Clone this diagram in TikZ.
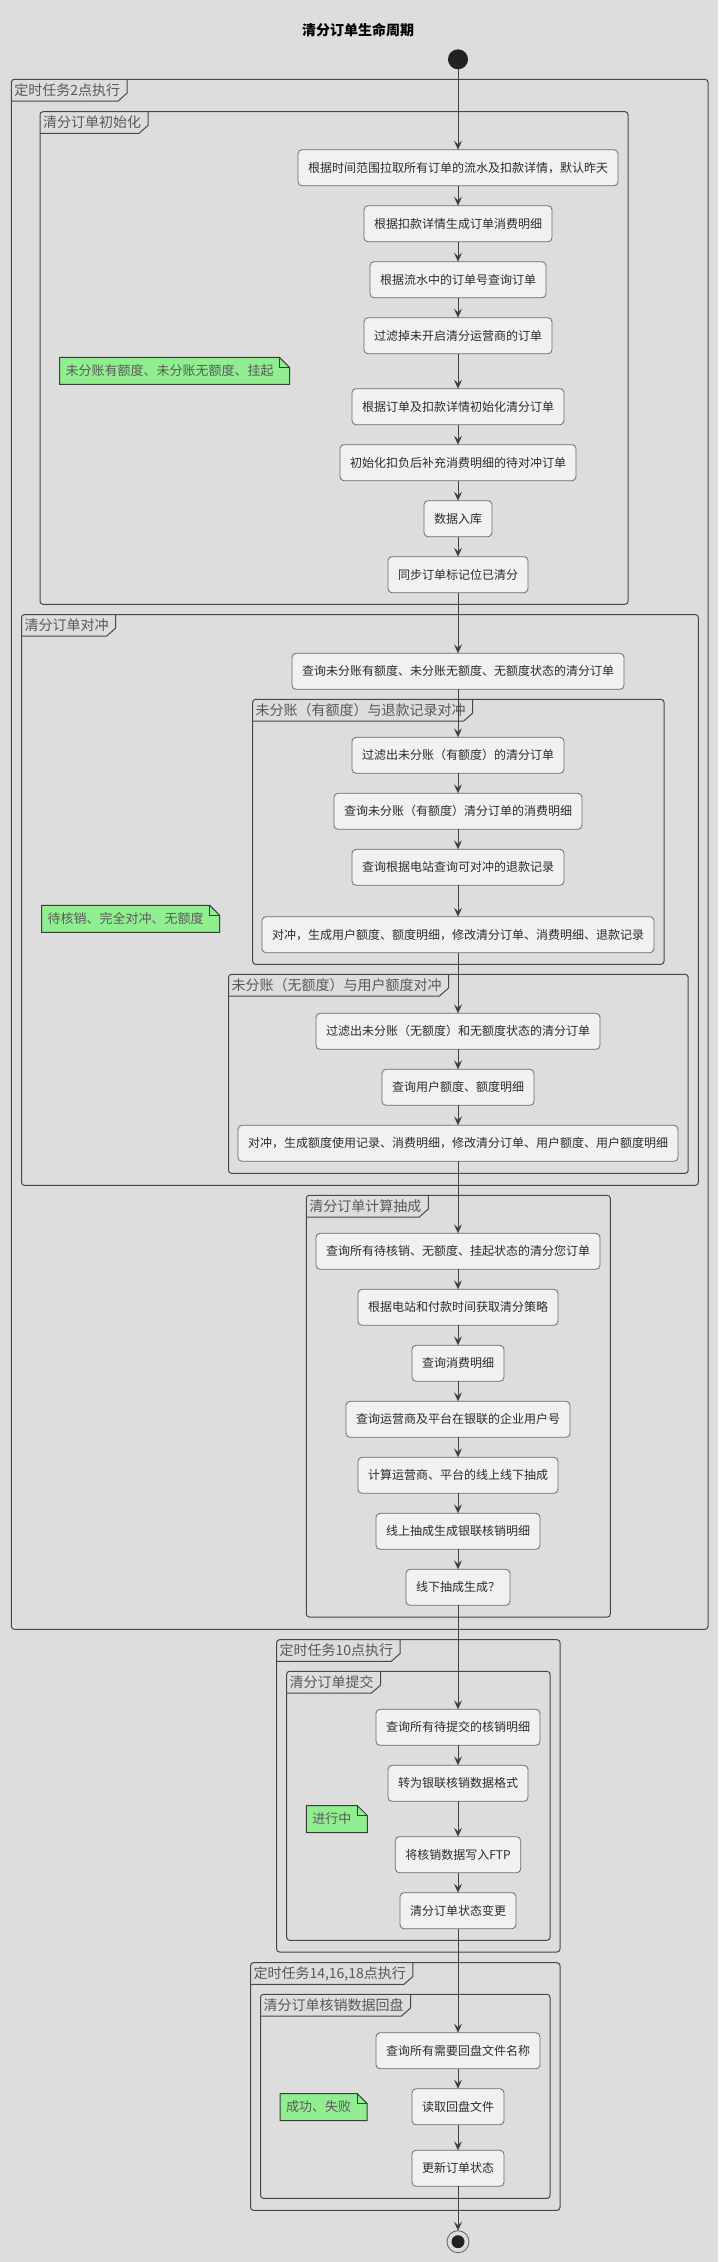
\documentclass[tikz,border=0pt]{standalone}
\usepackage{fontspec}
\setmainfont{Noto Sans CJK SC}
\usepackage{xcolor}
\usetikzlibrary{positioning,arrows.meta,backgrounds}

\definecolor{bgGray}{HTML}{DDDDDD}
\definecolor{actFill}{HTML}{F1F1F1}
\definecolor{actLine}{HTML}{6B6B6B}
\definecolor{actText}{HTML}{2B2B2B}
\definecolor{grpLine}{HTML}{474747}
\definecolor{lblText}{HTML}{585858}
\definecolor{memoFill}{HTML}{90EE90}
\definecolor{memoLine}{HTML}{3C3C3C}
\definecolor{memoText}{HTML}{5A5A5A}
\definecolor{arrowCol}{HTML}{404040}
\definecolor{dotCol}{HTML}{222222}

\begin{document}
\begin{tikzpicture}[
    x=1pt, y=-1pt,
    node distance=20pt,
    act/.style={rectangle, rounded corners=4pt, draw=actLine, fill=actFill, line width=0.8pt, minimum height=36pt, inner xsep=10pt, outer sep=0pt, font=\fontsize{12}{14}\selectfont, text=actText},
    grp/.style={draw=grpLine, line width=1pt, rounded corners=3pt},
    grplbl/.style={anchor=north west, inner xsep=3pt, inner ysep=0pt, outer sep=0pt, minimum height=21.7pt, font=\fontsize{14}{16}\selectfont, text=lblText},
    tab/.style={draw=grpLine, line width=1pt},
    memo/.style={anchor=west, inner xsep=6pt, inner ysep=0pt, outer sep=0pt, minimum height=27pt, font=\fontsize{13}{15}\selectfont, text=memoText},
    arrow/.style={-{Stealth[length=9pt,width=8pt,inset=3.5pt]}, draw=arrowCol, line width=0.9pt}
]
    \begin{scope}[on background layer]
        \fill[bgGray] (0,0) rectangle (718,2262);
    \end{scope}
    \useasboundingbox (0,0) rectangle (718,2262);

    % Frames
    \draw[grp] (11.4,79.3) rectangle (708,1629.3);
    \node[grplbl] (g1) at (11.4,79.3) {定时任务2点执行};
    \draw[grp] (40,111.7) rectangle (628,604.3);
    \node[grplbl] (g1a) at (40,111.7) {清分订单初始化};
    \draw[grp] (21.5,614.5) rectangle (698.3,1185.3);
    \node[grplbl] (g1b) at (21.5,614.5) {清分订单对冲};
    \draw[grp] (252.7,699.3) rectangle (664,964.3);
    \node[grplbl] (g1b1) at (252.7,699.3) {未分账（有额度）与退款记录对冲};
    \draw[grp] (228.5,974.3) rectangle (688.2,1173.3);
    \node[grplbl] (g1b2) at (228.5,974.3) {未分账（无额度）与用户额度对冲};
    \draw[grp] (306.3,1195.3) rectangle (610.3,1617);
    \node[grplbl] (g1c) at (306.3,1195.3) {清分订单计算抽成};
    \draw[grp] (276.6,1639.7) rectangle (560,1952);
    \node[grplbl] (g2) at (276.6,1639.7) {定时任务10点执行};
    \draw[grp] (286.6,1671.3) rectangle (550,1940.3);
    \node[grplbl] (g2a) at (286.6,1671.3) {清分订单提交};
    \draw[grp] (250.5,1962.7) rectangle (560,2210.3);
    \node[grplbl] (g3) at (250.5,1962.7) {定时任务14,16,18点执行};
    \draw[grp] (260.5,1994.3) rectangle (550,2198.3);
    \node[grplbl] (g3a) at (260.5,1994.3) {清分订单核销数据回盘};

    \foreach \g in {g1,g1a,g1b,g1b1,g1b2,g1c,g2,g2a,g3,g3a}
        \draw[tab] (\g.south west) -- ([xshift=-5pt]\g.south east) -- ([xshift=4pt,yshift=8pt]\g.south east) -- ([xshift=4pt]\g.north east);

    % Title and start
    \node[font=\bfseries\fontsize{14}{16}\selectfont] (title) at (358,30) {清分订单生命周期};
    \node[circle, fill=dotCol, minimum size=20pt, inner sep=0pt, outer sep=0pt] (start) at (458,59.3) {};

    % Activities
    \node[act, below=80.4pt of start] (b1) {根据时间范围拉取所有订单的流水及扣款详情，默认昨天};
    \node[act, below=of b1] (b2) {根据扣款详情生成订单消费明细};
    \node[act, below=of b2] (b3) {根据流水中的订单号查询订单};
    \node[act, below=of b3] (b4) {过滤掉未开启清分运营商的订单};
    \node[act, below=35pt of b4] (b5) {根据订单及扣款详情初始化清分订单};
    \node[act, below=of b5] (b6) {初始化扣负后补充消费明细的待对冲订单};
    \node[act, below=of b6] (b7) {数据入库};
    \node[act, below=of b7] (b8) {同步订单标记位已清分};

    \node[act, below=60.6pt of b8] (b9) {查询未分账有额度、未分账无额度、无额度状态的清分订单};
    \node[act, below=48pt of b9] (b10) {过滤出未分账（有额度）的清分订单};
    \node[act, below=of b10] (b11) {查询未分账（有额度）清分订单的消费明细};
    \node[act, below=of b11] (b12) {查询根据电站查询可对冲的退款记录};
    \node[act, below=31.4pt of b12] (b13) {对冲，生成用户额度、额度明细，修改清分订单、消费明细、退款记录};
    \node[act, below=60.6pt of b13] (b14) {过滤出未分账（无额度）和无额度状态的清分订单};
    \node[act, below=of b14] (b15) {查询用户额度、额度明细};
    \node[act, below=of b15] (b16) {对冲，生成额度使用记录、消费明细，修改清分订单、用户额度、用户额度明细};

    \node[act, below=72pt of b16] (b17) {查询所有待核销、无额度、挂起状态的清分您订单};
    \node[act, below=of b17] (b18) {根据电站和付款时间获取清分策略};
    \node[act, below=of b18] (b19) {查询消费明细};
    \node[act, below=of b19] (b20) {查询运营商及平台在银联的企业用户号};
    \node[act, below=of b20] (b21) {计算运营商、平台的线上线下抽成};
    \node[act, below=of b21] (b22) {线上抽成生成银联核销明细};
    \node[act, below=of b22] (b23) {线下抽成生成？};

    \node[act, below=104pt of b23] (b24) {查询所有待提交的核销明细};
    \node[act, below=of b24] (b25) {转为银联核销数据格式};
    \node[act, below=35.4pt of b25] (b26) {将核销数据写入FTP};
    \node[act, below=of b26] (b27) {清分订单状态变更};

    \node[act, below=104pt of b27] (b28) {查询所有需要回盘文件名称};
    \node[act, below=of b28] (b29) {读取回盘文件};
    \node[act, below=25.6pt of b29] (b30) {更新订单状态};

    \node[circle, draw=actLine, fill=bgGray, line width=0.9pt, minimum size=22pt, inner sep=0pt, outer sep=0pt, below=44.4pt of b30] (stop) {};
    \node[circle, fill=dotCol, minimum size=13pt, inner sep=0pt] (stopDot) at (stop) {};

    % Notes
    \node[memo] (m1) at (59.5,370.8) {未分账有额度、未分账无额度、挂起};
    \node[memo] (m2) at (41.7,918.8) {待核销、完全对冲、无额度};
    \node[memo] (m3) at (306.3,1819) {进行中};
    \node[memo] (m4) at (280.2,2107) {成功、失败};
    \begin{scope}[on background layer]
        \foreach \m in {m1,m2,m3,m4} {
            \filldraw[fill=memoFill, draw=memoLine, line width=1pt]
                (\m.south west) -- (\m.north west) -- (\m.north east)
                -- ([xshift=10pt,yshift=-10pt]\m.north east) -- ([xshift=10pt]\m.south east) -- cycle;
            \draw[memoLine, line width=1pt] (\m.north east) -- ([yshift=-10pt]\m.north east) -- ([xshift=10pt,yshift=-10pt]\m.north east);
        }
    \end{scope}

    % Arrows
    \draw[arrow] (start) -- (b1);
    \draw[arrow] (b1) -- (b2);
    \draw[arrow] (b2) -- (b3);
    \draw[arrow] (b3) -- (b4);
    \draw[arrow] (b4) -- (b5);
    \draw[arrow] (b5) -- (b6);
    \draw[arrow] (b6) -- (b7);
    \draw[arrow] (b7) -- (b8);
    \draw[arrow] (b8) -- (b9);
    \draw[arrow] (b9) -- (b10);
    \draw[arrow] (b10) -- (b11);
    \draw[arrow] (b11) -- (b12);
    \draw[arrow] (b12) -- (b13);
    \draw[arrow] (b13) -- (b14);
    \draw[arrow] (b14) -- (b15);
    \draw[arrow] (b15) -- (b16);
    \draw[arrow] (b16) -- (b17);
    \draw[arrow] (b17) -- (b18);
    \draw[arrow] (b18) -- (b19);
    \draw[arrow] (b19) -- (b20);
    \draw[arrow] (b20) -- (b21);
    \draw[arrow] (b21) -- (b22);
    \draw[arrow] (b22) -- (b23);
    \draw[arrow] (b23) -- (b24);
    \draw[arrow] (b24) -- (b25);
    \draw[arrow] (b25) -- (b26);
    \draw[arrow] (b26) -- (b27);
    \draw[arrow] (b27) -- (b28);
    \draw[arrow] (b28) -- (b29);
    \draw[arrow] (b29) -- (b30);
    \draw[arrow] (b30) -- (stop);

\end{tikzpicture}
\end{document}
